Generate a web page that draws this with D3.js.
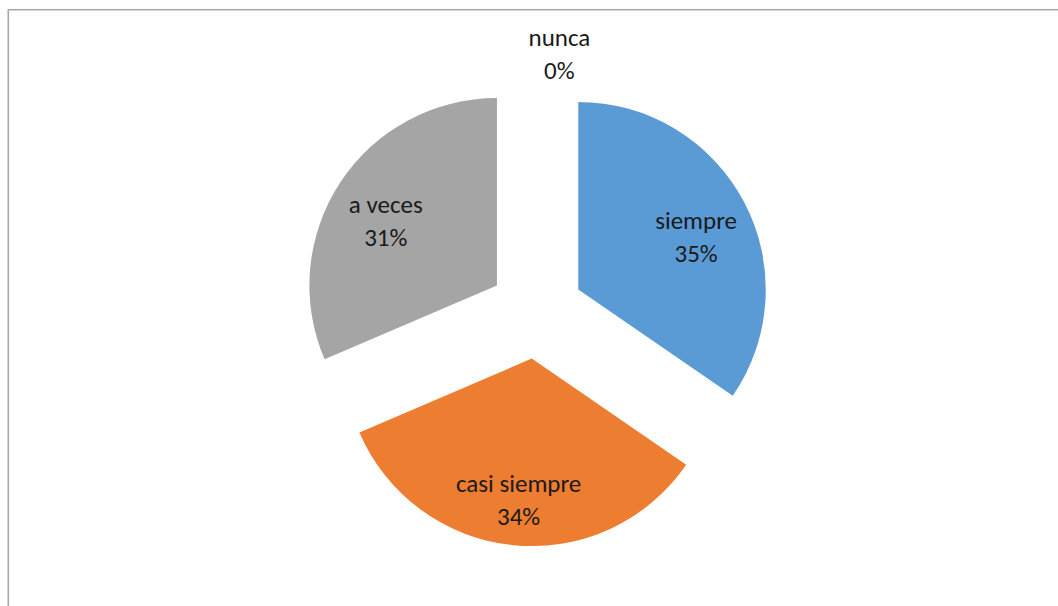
<!DOCTYPE html>
<html><head><meta charset="utf-8">
<script src="https://cdn.jsdelivr.net/npm/d3@7"></script>
<style>html,body{margin:0;padding:0;background:#fff;overflow:hidden}</style>
</head><body>
<svg id="chart" width="1058" height="606"></svg>
<script>
const categories = ["siempre", "casi siempre", "a veces", "nunca"];
const values = [55, 54, 50, 0];
const percentLabels = ["35%", "34%", "31%", "0%"];
const colors = ["#5B9BD5", "#ED7D31", "#A5A5A5", "#FFC000"];

const W = 1058, H = 606;
const cx = 536.4, cy = 311.5, R = 187.5, explode = 47.3;
const svg = d3.select("#chart");

svg.append("rect").attr("x", 8.3).attr("y", 9.7).attr("width", 1200).attr("height", 800)
  .attr("fill", "#fff").attr("stroke", "#a6a6a6").attr("stroke-width", 1.5);

const data = categories.map((c, i) => ({cat: c, value: values[i], pct: percentLabels[i], color: colors[i]}));
const pie = d3.pie().value(d => d.value).sort(null).startAngle(0).endAngle(2 * Math.PI);
const arcs = pie(data);
const arc = d3.arc().innerRadius(0).outerRadius(R);
const labelArc = d3.arc().innerRadius(R * 0.71).outerRadius(R * 0.71);

const g = svg.append("g").attr("transform", `translate(${cx},${cy})`);
function off(a) {
  const m = (a.startAngle + a.endAngle) / 2;
  return [Math.sin(m) * explode, -Math.cos(m) * explode];
}
arcs.forEach(a => {
  const [dx, dy] = off(a);
  const gg = g.append("g").attr("transform", `translate(${dx},${dy})`);
  if (a.data.value > 0) {
    gg.append("path").attr("d", arc(a)).attr("fill", a.data.color);
  }
  let lx, ly;
  if (a.data.value > 0) {
    [lx, ly] = labelArc.centroid(a);
  } else {
    lx = 23; ly = -R - 32;
  }
  const t = gg.append("text").attr("text-anchor", "middle")
    .attr("font-family", "Carlito, Lato, 'Liberation Sans', sans-serif").attr("font-size", 25)
    .attr("fill", "#1a1a1a");
  t.append("tspan").attr("x", lx).attr("y", ly + 1).text(a.data.cat);
  t.append("tspan").attr("x", lx).attr("y", ly + 34).text(a.data.pct);
});
</script>
</body></html>
